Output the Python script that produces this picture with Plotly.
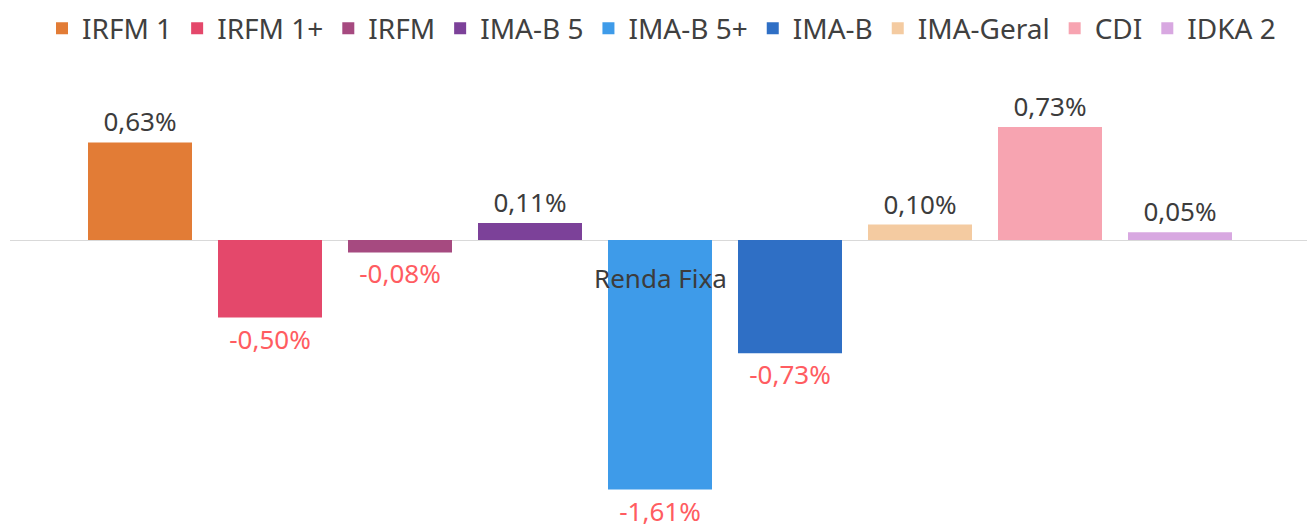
import plotly.graph_objects as go

categories = ["Renda Fixa"]
series_names = ["IRFM 1", "IRFM 1+", "IRFM", "IMA-B 5", "IMA-B 5+", "IMA-B", "IMA-Geral", "CDI", "IDKA 2"]
series_values = [0.63, -0.50, -0.08, 0.11, -1.61, -0.73, 0.10, 0.73, 0.05]
series_colors = ["#E27C36", "#E4486B", "#A64A80", "#7C4199", "#3E9BE9", "#2F6FC5", "#F4CBA1", "#F7A4B1", "#D8A8E1"]

POS_TEXT = "#3C3C3C"
NEG_TEXT = "#FF5C61"
FONT = "Noto Sans"

fig = go.Figure()
for name, val, col in zip(series_names, series_values, series_colors):
    fig.add_trace(go.Bar(
        name=name,
        x=categories,
        y=[val],
        marker=dict(color=col, line=dict(width=0)),
        texttemplate="%{y:.2f}%",
        textposition="outside",
        cliponaxis=False,
        constraintext="none",
        textfont=dict(family=FONT, size=26, color=POS_TEXT if val >= 0 else NEG_TEXT),
        hoverinfo="skip",
    ))

fig.add_annotation(
    x=categories[0], y=0, xref="x", yref="y",
    text=categories[0], showarrow=False,
    yanchor="top", yshift=-18,
    font=dict(family=FONT, size=26, color="#3C3C3C"),
)

fig.update_layout(
    width=1307, height=520,
    separators=",.",
    barmode="group",
    bargap=0.1,
    bargroupgap=0.2,
    paper_bgcolor="white",
    plot_bgcolor="white",
    margin=dict(l=2, r=5, t=62, b=0, autoexpand=False),
    showlegend=True,
    legend=dict(
        orientation="h",
        x=0.5, xanchor="center", xref="container",
        y=1.145, yanchor="top", yref="paper",
        font=dict(family=FONT, size=28, color="#404040"),
        itemwidth=30,
        traceorder="normal",
    ),
    xaxis=dict(showticklabels=False, showgrid=False, zeroline=False, showline=False, ticks=""),
    yaxis=dict(range=[-1.858, 1.097], showticklabels=False, showgrid=False,
               zeroline=True, zerolinecolor="#D9D9D9", zerolinewidth=1, ticks=""),
)

fig.write_html("out.html")
